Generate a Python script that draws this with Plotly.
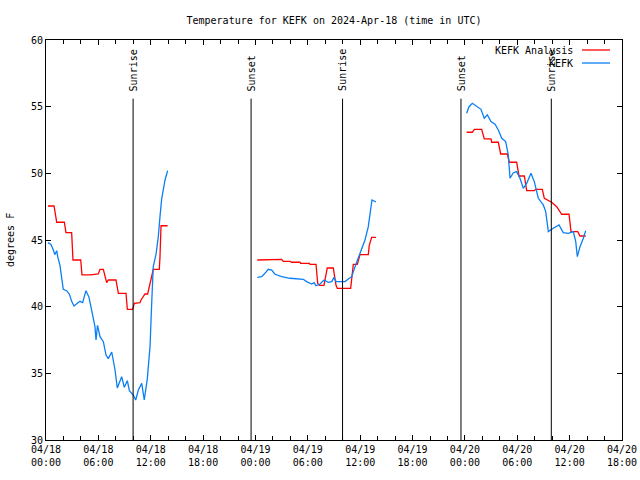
import plotly.graph_objects as go
from datetime import datetime, timedelta

BASE = datetime(2024, 4, 18)

# hours after 2024-04-18 00:00 UTC (None = data gap)
red_hours = [0.23, 0.92, 1.23, 2.10, 2.29, 2.94, 3.09, 3.98, 4.12, 5.12, 5.99, 6.19, 6.57, 6.95, 7.14, 8.02,
             8.29, 9.17, 9.32, 9.93, 10.12, 10.77, 10.89, 11.34, 11.65, 11.84, 12.11, 12.29, 12.98, 13.06,
             13.18, 13.94, None,
             24.21, 26.05, 26.24, 27.0, 27.19, 27.96, 28.15, 29.1, 29.18, 30.17, 30.25, 30.94, 31.13, 31.32,
             31.85, 32.23, 32.92, 33.23, 33.38, 34.91, 35.21, 35.67, 35.98, 36.93, 37.04, 37.32, 37.81, None,
             48.2, 48.85, 49.08, 49.92, 50.22, 50.99, 51.07, 51.83, 52.1, 52.86, 53.09, 53.93, 54.2, 54.81,
             55.08, 55.95, 56.11, 56.87, 57.1, 57.94, 58.52, 59.09, 59.93, 60.16, 60.92, 61.19, 61.84]
red_temps = [47.55, 47.55, 46.33, 46.33, 45.55, 45.55, 43.5, 43.5, 42.38, 42.38, 42.45, 42.8, 42.8, 41.8, 42.0, 42.0,
             41.0, 41.0, 39.8, 39.8, 40.25, 40.3, 40.5, 40.95, 40.95, 41.5, 42.38, 42.8, 42.8, 43.7,
             46.07, 46.07, None,
             43.5, 43.5, 43.55, 43.55, 43.4, 43.4, 43.33, 43.33, 43.25, 43.25, 43.17, 43.17, 41.75, 41.6,
             41.6, 42.9, 42.9, 41.6, 41.37, 41.37, 43.17, 43.17, 43.9, 43.9, 44.6, 45.2, 45.2, None,
             53.08, 53.08, 53.3, 53.3, 52.58, 52.58, 52.33, 52.33, 51.45, 51.45, 50.83, 50.83, 49.8, 49.8,
             48.7, 48.7, 48.8, 48.8, 48.13, 47.83, 47.5, 46.93, 46.93, 45.63, 45.63, 45.3, 45.3]

blue_hours = [0.23, 0.57, 0.84, 1.0, 1.23, 1.34, 1.6, 1.8, 1.98, 2.37, 2.67, 2.94, 3.21, 3.59, 3.9, 4.2, 4.58,
              4.93, 5.16, 5.42, 5.61, 5.73, 5.9, 6.19, 6.57, 6.88, 7.14, 7.53, 7.91, 8.17, 8.67, 8.97, 9.32,
              9.55, 10.0, 10.28, 10.58, 10.97, 11.26, 11.61, 11.92, 12.11, 12.29, 12.6, 12.87, 13.06, 13.26,
              13.64, 13.94, None,
              24.21, 24.71, 25.09, 25.47, 25.86, 26.24, 27.0, 27.96, 29.48, 29.87, 30.44, 30.71, 30.94, 31.4,
              31.85, 32.35, 32.74, 33.0, 33.23, 34.26, 34.64, 35.03, 35.41, 35.98, 36.55, 36.93, 37.35, 37.81,
              None,
              48.2, 48.47, 48.85, 49.35, 49.84, 50.22, 50.57, 50.99, 51.45, 51.83, 52.22, 52.67, 52.97, 53.17,
              53.55, 53.93, 54.31, 54.69, 55.08, 55.57, 55.95, 56.41, 56.98, 57.26, 57.56, 58.13, 58.78, 59.27,
              59.85, 60.42, 60.7, 60.88, 61.19, 61.57, 61.84]
blue_temps = [44.8, 44.67, 44.25, 43.9, 44.2, 43.75, 43.1, 42.25, 41.3, 41.2, 40.95, 40.4, 40.05, 40.25, 40.4, 40.3, 41.2,
              40.7, 40.0, 39.1, 38.5, 37.5, 38.6, 37.75, 37.37, 36.37, 36.1, 36.6, 35.25, 33.9, 34.75, 33.95, 34.45,
              33.7, 33.37, 33.0, 33.75, 34.25, 33.0, 34.6, 37.0, 40.25, 43.0, 43.9, 45.25, 46.75, 48.1,
              49.5, 50.2, None,
              42.2, 42.25, 42.5, 42.8, 42.75, 42.43, 42.25, 42.13, 42.05, 41.88, 41.7, 41.8, 41.57, 41.7,
              42.0, 41.83, 41.88, 42.2, 41.88, 41.88, 42.08, 42.25, 43.0, 44.0, 45.0, 46.0, 48.0, 47.85,
              None,
              54.5, 55.0, 55.25, 55.0, 54.8, 54.13, 54.38, 53.88, 53.68, 53.25, 52.63, 52.38, 51.38, 49.63,
              50.05, 50.13, 49.63, 48.88, 49.25, 50.0, 49.38, 48.13, 47.63, 47.13, 45.63, 45.88, 46.13, 45.55,
              45.5, 45.63, 44.88, 43.75, 44.5, 45.13, 45.7]

sun_hours = [9.98, 23.5, 33.98, 47.55, 57.9]
sun_labels = ["Sunrise", "Sunset", "Sunrise", "Sunset", "Sunrise"]
sun_line_top = 55.6
sun_label_base = 56.0

tick_hours = list(range(0, 67, 6))
x_range_hours = [0, 66]
y_range = [30, 60]
y_ticks = [30, 35, 40, 45, 50, 55, 60]

series_names = ["KEFK Analysis", "KEFK"]
series_colors = ["#ff0000", "#0a7ff5"]

FONT = "DejaVu Sans Mono"


def to_time(h):
    return None if h is None else BASE + timedelta(hours=h)


fig = go.Figure()
fig.add_trace(go.Scatter(x=[to_time(h) for h in red_hours], y=red_temps, mode="lines",
                         line=dict(color=series_colors[0], width=1.3), name=series_names[0],
                         connectgaps=False, showlegend=False))
fig.add_trace(go.Scatter(x=[to_time(h) for h in blue_hours], y=blue_temps, mode="lines",
                         line=dict(color=series_colors[1], width=1.3), name=series_names[1],
                         connectgaps=False, showlegend=False))

for h, lab in zip(sun_hours, sun_labels):
    t = to_time(h)
    fig.add_shape(type="line", xref="x", yref="y", x0=t, x1=t, y0=y_range[0], y1=sun_line_top,
                  line=dict(color="black", width=1))
    fig.add_annotation(x=t, y=sun_label_base, xref="x", yref="y", text=lab, textangle=-90,
                       showarrow=False, xanchor="center", yanchor="bottom",
                       font=dict(family=FONT, size=10, color="black"))

# legend (text right-aligned, sample line on the right, as in the original)
for i, (nm, col) in enumerate(zip(series_names, series_colors)):
    ypix = 50 + 13 * i
    yp = 1 - (ypix - 40) / 400
    fig.add_annotation(xref="paper", yref="paper", x=(575 - 46) / 576, y=yp, text=nm, showarrow=False,
                       xanchor="right", yanchor="middle", font=dict(family=FONT, size=10, color="black"))
    fig.add_shape(type="line", xref="paper", yref="paper", x0=(582 - 46) / 576, x1=(610 - 46) / 576,
                  y0=yp, y1=yp, line=dict(color=col, width=1.3))

fig.add_annotation(xref="paper", yref="paper", x=0, xshift=-36, y=0.5, text="degrees F", textangle=-90,
                   showarrow=False, xanchor="center", yanchor="middle",
                   font=dict(family=FONT, size=10, color="black"))

tickvals = [to_time(h) for h in tick_hours]
ticktext = [f"{t:%m/%d}<br>{t:%H:%M}" for t in tickvals]

fig.update_layout(
    width=640, height=480,
    margin=dict(l=46, r=18, t=40, b=40, autoexpand=False),
    paper_bgcolor="white", plot_bgcolor="white",
    font=dict(family=FONT, size=10, color="black"),
    title=dict(text="Temperature for KEFK on 2024-Apr-18 (time in UTC)", x=0.5, xref="paper",
               y=1 - 20 / 480, yref="container", yanchor="middle", font=dict(family=FONT, size=10)),
    showlegend=False,
    hovermode=False,
)
fig.update_xaxes(type="date", range=[to_time(x_range_hours[0]), to_time(x_range_hours[1])],
                 tickmode="array", tickvals=tickvals, ticktext=ticktext, automargin=False,
                 showline=True, linecolor="black", linewidth=1, mirror="allticks",
                 ticks="inside", ticklen=5, tickcolor="black", showgrid=False, zeroline=False,
                 minor=dict(dtick=2 * 3600 * 1000, ticks="inside", ticklen=4, tickcolor="black", showgrid=False))
fig.update_yaxes(range=y_range, tickmode="array", tickvals=y_ticks, automargin=False,
                 showline=True, linecolor="black", linewidth=1, mirror="allticks",
                 ticks="inside", ticklen=5, tickcolor="black", showgrid=False, zeroline=False)

fig.write_html("out.html", config={"displayModeBar": False},
               post_script="document.body.style.margin='0';document.body.style.padding='0';")
